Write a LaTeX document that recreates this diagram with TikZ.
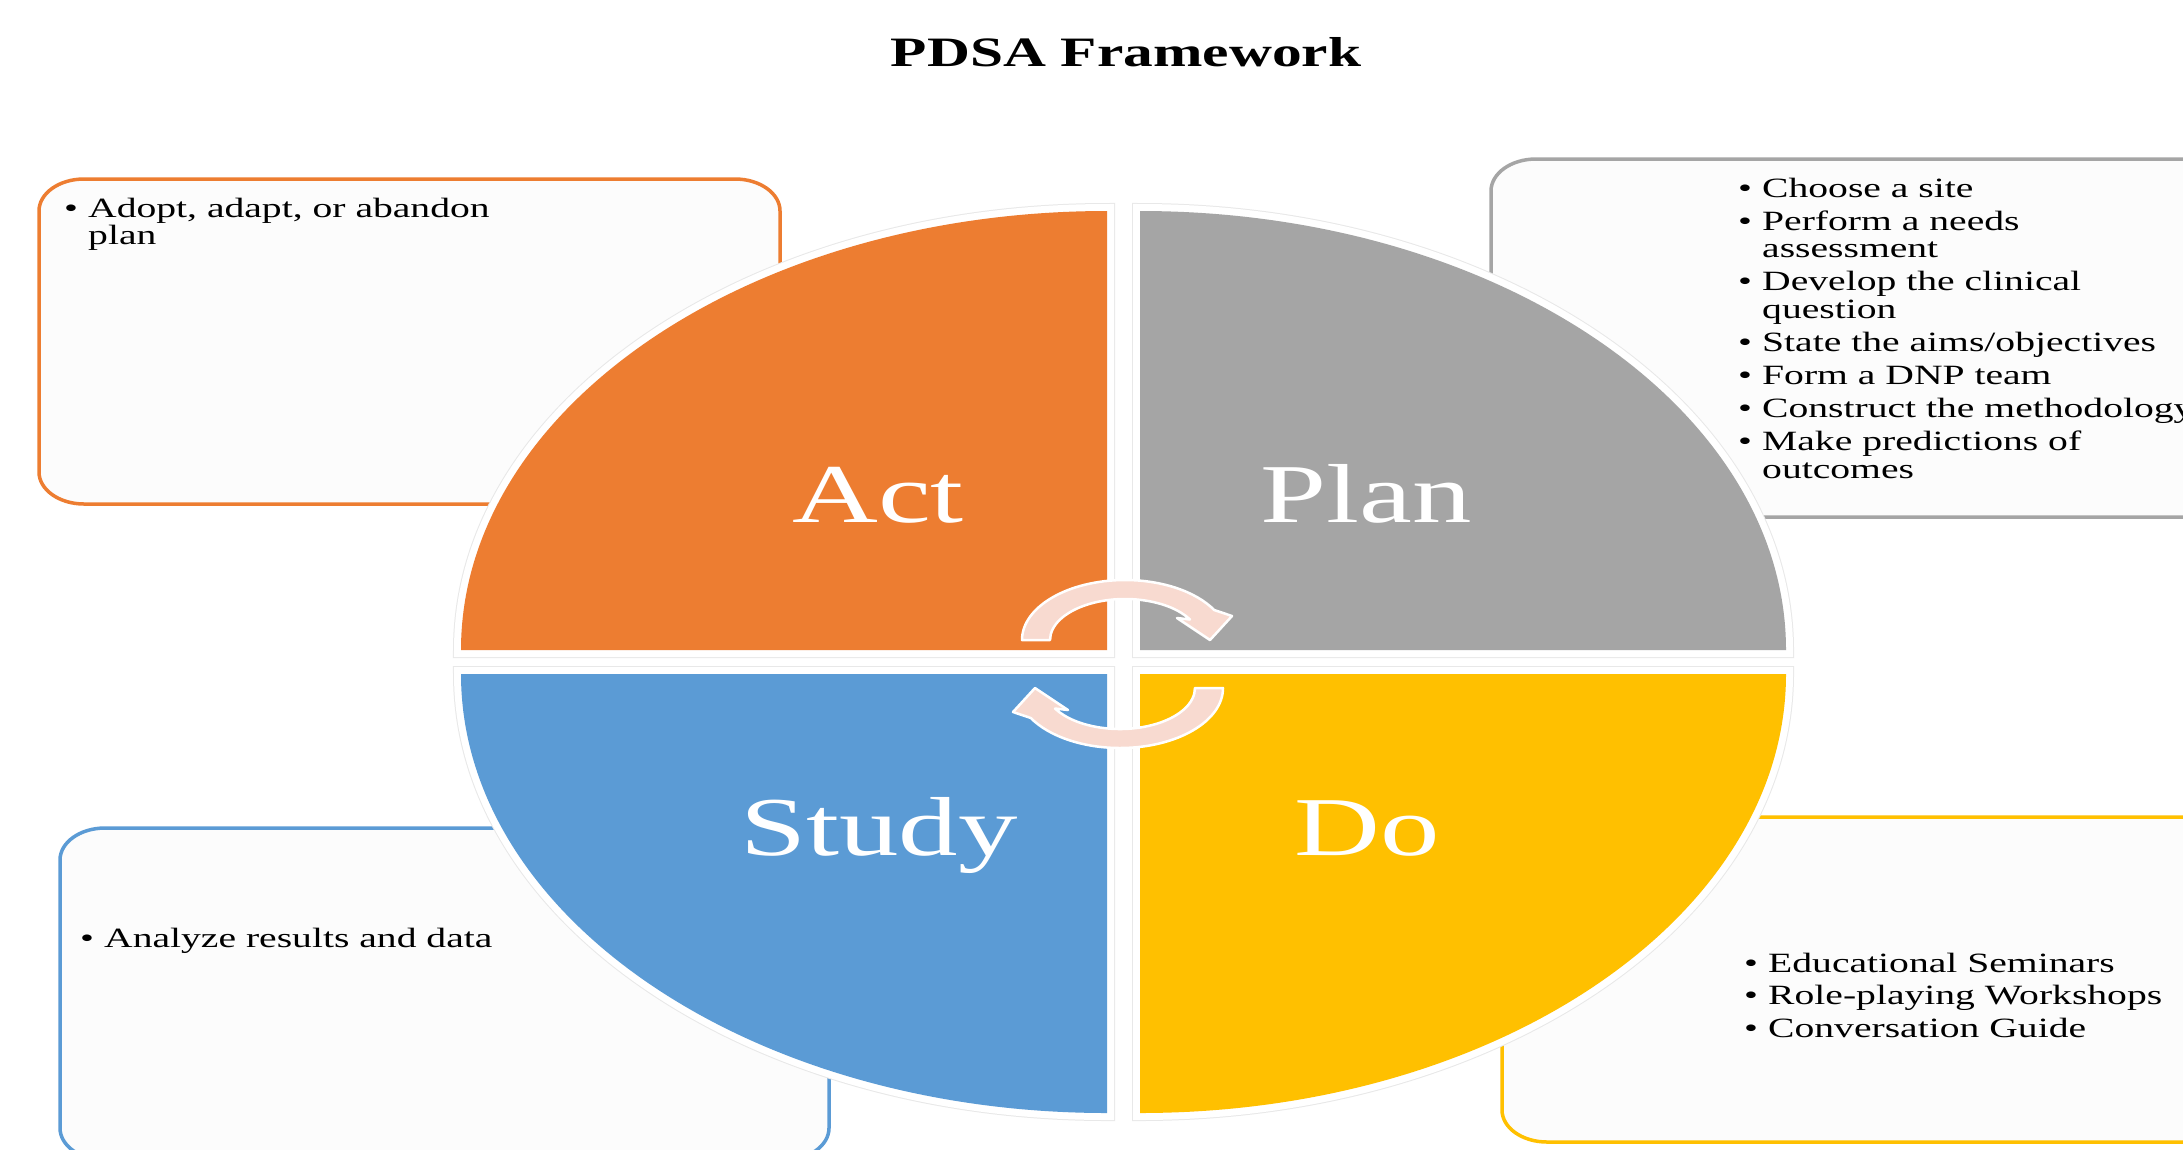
\documentclass[tikz,border=0pt]{standalone}
\usepackage{fontspec}
\setmainfont{Liberation Serif}[FakeStretch=1.42]

\definecolor{actorange}{HTML}{ED7D31}
\definecolor{plangray}{HTML}{A5A5A5}
\definecolor{studyblue}{HTML}{5B9BD5}
\definecolor{dogold}{HTML}{FFC000}
\definecolor{cyclepeach}{HTML}{F8DAD0}
\definecolor{boxfill}{HTML}{FCFCFC}

\tikzset{
  notebox/.style={fill=boxfill, line width=3.5bp},
  quadshadow/.style={draw=black!9, line width=16bp},
  quadrim/.style={draw=white, line width=14bp},
  phase/.style={text=white, inner sep=0pt, anchor=base,
    font=\fontsize{84}{84}\selectfont},
  listtext/.style={anchor=base west, inner sep=0pt,
    font=\fontsize{28}{28}\selectfont},
  cyclearrow/.style={fill=cyclepeach, draw=white, line width=2.5bp, line join=round},
}

% bullet with its hanging indent
\newcommand\itm{\makebox[24bp][l]{\textbullet}}

% box with elliptical corners: {style}{x1}{y1}{x2}{y2}, y grows downwards
\newcommand\stretchedbox[5]{%
  \path[#1] (#2+45,#3) -- (#4-45,#3)
    arc[start angle=270, end angle=360, x radius=45, y radius=32]
    -- (#4,#5-32)
    arc[start angle=0, end angle=90, x radius=45, y radius=32]
    -- (#2+45,#5)
    arc[start angle=90, end angle=180, x radius=45, y radius=32]
    -- (#2,#3+32)
    arc[start angle=180, end angle=270, x radius=45, y radius=32]
    -- cycle;}

% one curved cycle arrow around its own centre
\newcommand\cyclearrowpath{%
  (-103,0) arc[start angle=180, end angle=330, x radius=103, y radius=60]
  -- (107,-24) -- (85,0) -- (52,-22) -- (65,-20.5)
  arc[start angle=330, end angle=180, x radius=75, y radius=41] -- cycle}

\begin{document}
\begin{tikzpicture}[x=1bp, y=-1bp]
\clip (0,0) rectangle (2183,1149);
\fill[white] (0,0) rectangle (2183,1149);

% title
\node[anchor=base, inner sep=0pt, font=\bfseries\fontsize{42}{42}\selectfont]
  (title) at (1126,66) {PDSA Framework};

% note boxes
\stretchedbox{notebox, draw=actorange}{39}{179}{780}{504}
\stretchedbox{notebox, draw=plangray}{1491}{159}{2240}{517}
\stretchedbox{notebox, draw=studyblue}{60}{828}{829}{1160}
\stretchedbox{notebox, draw=dogold}{1502}{817}{2240}{1142}

% quadrants: soft edge, white rim, then the fill
\foreach \q in {quadshadow, quadrim}{
  \path[\q] (1107,650) -- (461,650)
     arc[start angle=180, end angle=270, x radius=646, y radius=439] -- cycle;
  \path[\q] (1140,650) -- (1140,211)
     arc[start angle=270, end angle=360, x radius=646, y radius=439] -- cycle;
  \path[\q] (1140,674) -- (1786,674)
     arc[start angle=0, end angle=90, x radius=646, y radius=439] -- cycle;
  \path[\q] (1107,674) -- (1107,1113)
     arc[start angle=90, end angle=180, x radius=646, y radius=439] -- cycle;
}
\fill[actorange] (1107,650) -- (461,650)
   arc[start angle=180, end angle=270, x radius=646, y radius=439] -- cycle;
\fill[plangray] (1140,650) -- (1140,211)
   arc[start angle=270, end angle=360, x radius=646, y radius=439] -- cycle;
\fill[dogold] (1140,674) -- (1786,674)
   arc[start angle=0, end angle=90, x radius=646, y radius=439] -- cycle;
\fill[studyblue] (1107,674) -- (1107,1113)
   arc[start angle=90, end angle=180, x radius=646, y radius=439] -- cycle;

% phase labels
\node[phase] (act)   at (878,522)  {Act};
\node[phase] (plan)  at (1366,522) {Plan};
\node[phase] (study) at (879,855)  {Study};
\node[phase] (do)    at (1367,855) {Do};

% cycle arrows
\begin{scope}[shift={(1125,640)}]
  \path[cyclearrow] \cyclearrowpath;
\end{scope}
\begin{scope}[shift={(1120,688)}, rotate=180]
  \path[cyclearrow] \cyclearrowpath;
\end{scope}

% box contents
\node[listtext] (acttext) at (64,217) {%
  \begin{tabular}[t]{@{}l@{}l@{}}
  \itm & Adopt, adapt, or abandon\\
       & plan
  \end{tabular}};

\node[listtext] (plantext) at (1738,197) {%
  \begin{tabular}[t]{@{}l@{}l@{}}
  \itm & Choose a site\\[5bp]
  \itm & Perform a needs\\
       & assessment\\[5bp]
  \itm & Develop the clinical\\
       & question\\[5bp]
  \itm & State the aims/objectives\\[5bp]
  \itm & Form a DNP team\\[5bp]
  \itm & Construct the methodology\\[5bp]
  \itm & Make predictions of\\
       & outcomes
  \end{tabular}};

\node[listtext] (studytext) at (80,947) {%
  \begin{tabular}[t]{@{}l@{}l@{}}
  \itm & Analyze results and data
  \end{tabular}};

\node[listtext] (dotext) at (1744,972) {%
  \begin{tabular}[t]{@{}l@{}l@{}}
  \itm & Educational Seminars\\[5bp]
  \itm & Role-playing Workshops\\[5bp]
  \itm & Conversation Guide
  \end{tabular}};
\end{tikzpicture}
\end{document}
